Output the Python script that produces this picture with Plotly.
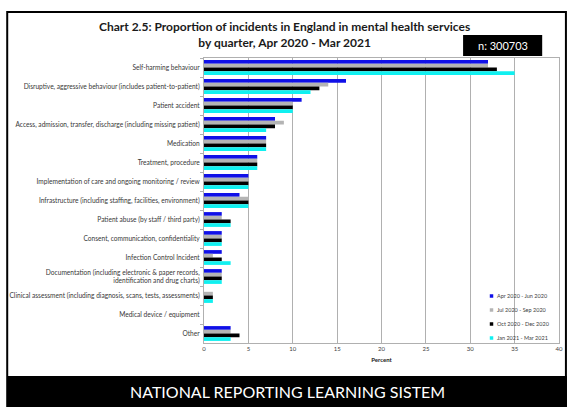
import plotly.graph_objects as go

categories = [
    "Self-harming behaviour",
    "Disruptive, aggressive behaviour (includes patient-to-patient)",
    "Patient accident",
    "Access, admission, transfer, discharge (including missing patient)",
    "Medication",
    "Treatment, procedure",
    "Implementation of care and ongoing monitoring / review",
    "Infrastructure (including staffing, facilities, environment)",
    "Patient abuse (by staff / third party)",
    "Consent, communication, confidentiality",
    "Infection Control Incident",
    "Documentation (including electronic & paper records,<br>identification and drug charts)",
    "Clinical assessment (including diagnosis, scans, tests, assessments)",
    "Medical device / equipment",
    "Other",
]
series_names = ["Apr 2020 - Jun 2020", "Jul 2020 - Sep 2020", "Oct 2020 - Dec 2020", "Jan 2021 - Mar 2021"]
apr_jun = [32, 16, 11, 8, 7, 6, 5, 4, 2, 2, 2, 2, 0, 0, 3]
jul_sep = [32, 14, 10, 9, 7, 6, 5, 5, 2, 2, 1, 2, 1, 0, 3]
oct_dec = [33, 13, 10, 8, 7, 6, 5, 5, 3, 2, 2, 2, 1, 0, 4]
jan_mar = [35, 12, 10, 7, 7, 6, 5, 5, 3, 2, 3, 2, 1, 0, 3]
series_values = [apr_jun, jul_sep, oct_dec, jan_mar]
colors = ["#1010E8", "#B4B4B4", "#000000", "#10F0F0"]
x_ticks = [0, 5, 10, 15, 20, 25, 30, 35, 40]

W, H = 571, 407
L, R, T, B = 204, 8, 58, 64
pw, ph = W - L - R, H - T - B


def px(x):
    return (x - L) / pw


def py(y):
    return (H - B - y) / ph


fig = go.Figure()
for name, vals, col in zip(series_names, series_values, colors):
    fig.add_trace(go.Bar(y=categories, x=vals, name=name, orientation="h",
                         marker=dict(color=col, line=dict(width=0)), showlegend=False))

font = "Lato, 'Open Sans', sans-serif"
fig.update_layout(
    width=W, height=H,
    margin=dict(l=L, r=R, t=T, b=B),
    paper_bgcolor="white", plot_bgcolor="white",
    barmode="group", bargap=0.22, bargroupgap=0,
    font=dict(family=font, color="#404040", size=6),
    showlegend=False,
    xaxis=dict(range=[0, 40], tickvals=x_ticks, showgrid=True, gridcolor="#B0B0B0",
               gridwidth=1, showline=True, linecolor="#B0B0B0", mirror=True,
               zeroline=False, ticks="", tickfont=dict(size=6, color="#404040"),
               title=dict(text="<b>Percent</b>", font=dict(size=6, color="#202020"), standoff=6)),
    yaxis=dict(autorange="reversed", showline=True, linecolor="#B0B0B0", mirror=True,
               ticks="outside", tickson="boundaries", ticklen=3, tickcolor="#B0B0B0",
               ticklabelstandoff=2,
               tickfont=dict(size=6.6, color="#383838"), showgrid=False),
)

# legend drawn manually (compact, like the reference)
leg_x, leg_y0, leg_dy = 493, 296, 14
for i, (name, col) in enumerate(zip(series_names, colors)):
    yy = leg_y0 + i * leg_dy
    fig.add_shape(type="rect", xref="paper", yref="paper", x0=px(leg_x), x1=px(leg_x + 3.5),
                  y0=py(yy + 1.75), y1=py(yy - 1.75), fillcolor=col, line=dict(width=0))
    fig.add_annotation(xref="paper", yref="paper", x=px(leg_x + 5), y=py(yy), xanchor="left",
                       yanchor="middle", text=name, showarrow=False,
                       font=dict(size=5.5, color="#404040", family=font))

fig.add_annotation(xref="paper", yref="paper", x=px(285), y=py(35), xanchor="center", yanchor="middle",
                   text="<b>Chart 2.5: Proportion of incidents in England in mental health services<br>by quarter, Apr 2020 - Mar 2021</b>",
                   showarrow=False, font=dict(size=12, color="#1a1a1a", family=font), align="center")
fig.add_shape(type="rect", xref="paper", yref="paper", x0=px(466), x1=px(546), y0=py(56), y1=py(35),
              fillcolor="black", line=dict(width=0))
fig.add_annotation(xref="paper", yref="paper", x=px(506), y=py(45.5), xanchor="center", yanchor="middle",
                   text="n: 300703", showarrow=False, font=dict(size=11, color="white", family=font))
# outer frame
fig.add_shape(type="rect", xref="paper", yref="paper", x0=px(5), x1=px(570), y0=py(407), y1=py(12),
              fillcolor="rgba(0,0,0,0)", line=dict(width=2, color="black"))
# footer band
fig.add_shape(type="rect", xref="paper", yref="paper", x0=px(5), x1=px(571), y0=py(407), y1=py(376),
              fillcolor="black", line=dict(width=0))
fig.add_annotation(xref="paper", yref="paper", x=px(288), y=py(391), xanchor="center", yanchor="middle",
                   text="NATIONAL REPORTING LEARNING SISTEM", showarrow=False,
                   font=dict(size=16, color="white", family=font))

fig.write_html("out.html", config={"displayModeBar": False},
               post_script="document.body.style.margin='0px';")
